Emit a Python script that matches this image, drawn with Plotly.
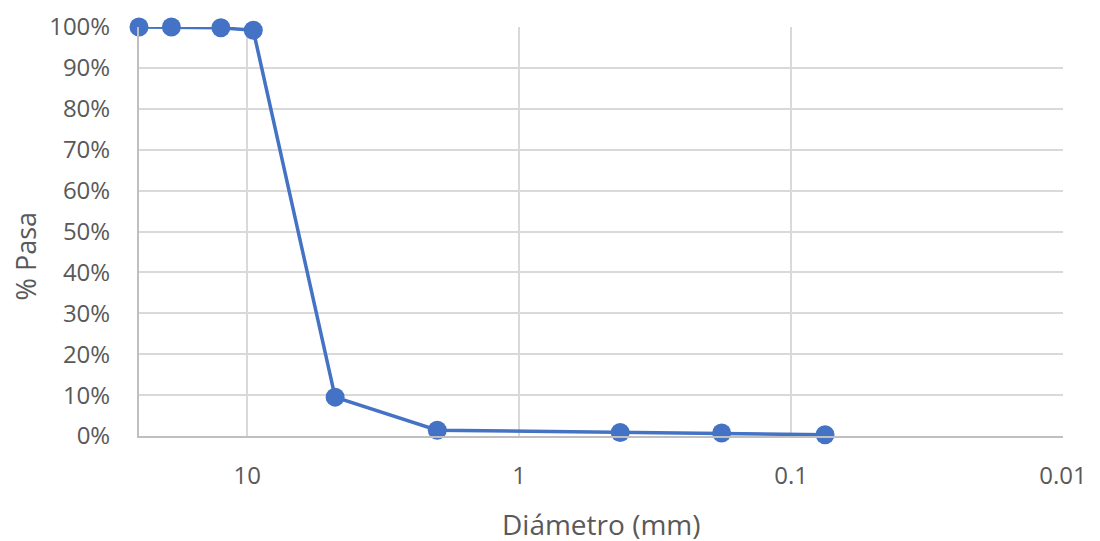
import math
import plotly.graph_objects as go

diametro_mm = [25.0, 19.0, 12.5, 9.5, 4.75, 2.0, 0.425, 0.18, 0.075]
pasa_pct = [100.0, 100.0, 99.8, 99.2, 9.5, 1.4, 0.85, 0.75, 0.3]

x_ticks = [10, 1, 0.1, 0.01]
x_tick_text = ["10", "1", "0.1", "0.01"]
y_ticks = [0, 10, 20, 30, 40, 50, 60, 70, 80, 90, 100]
y_tick_text = [f"{v}%" for v in y_ticks]

font_family = "Open Sans, Noto Sans, sans-serif"
gray_text = "#595959"

fig = go.Figure()
fig.add_trace(go.Scatter(
    x=diametro_mm, y=pasa_pct,
    mode="lines+markers",
    line=dict(color="#4472C4", width=3.5),
    marker=dict(color="#4472C4", size=19),
    cliponaxis=False,
    showlegend=False,
))

fig.update_layout(
    width=1100, height=541,
    margin=dict(l=131, r=45, t=19, b=113, autoexpand=False),
    paper_bgcolor="white", plot_bgcolor="white",
    font=dict(family=font_family, color=gray_text, size=24),
    xaxis=dict(
        type="log",
        range=[math.log10(25.0), -2],
        tickvals=x_ticks, ticktext=x_tick_text,
        showgrid=True, gridcolor="#d9d9d9", gridwidth=2,
        showline=True, linecolor="#bfbfbf", linewidth=2,
        zeroline=False, ticks="",
        tickfont=dict(size=24, color=gray_text),
        ticklabelstandoff=17,
        automargin=False,
    ),
    yaxis=dict(
        range=[0, 100],
        tickvals=y_ticks, ticktext=y_tick_text,
        showgrid=True, gridcolor="#d9d9d9", gridwidth=2,
        showline=True, linecolor="#bfbfbf", linewidth=2,
        zeroline=False, ticks="",
        tickfont=dict(size=24, color=gray_text),
        ticklabelstandoff=22,
        automargin=False,
    ),
    annotations=[
        dict(text="Diámetro (mm)", xref="paper", yref="paper", x=0.5, y=-0.215,
             xanchor="center", yanchor="middle", showarrow=False,
             font=dict(size=28, color=gray_text)),
        dict(text="% Pasa", xref="paper", yref="paper", x=-0.123, y=0.44,
             xanchor="center", yanchor="middle", textangle=-90, showarrow=False,
             font=dict(size=27, color=gray_text)),
    ],
)

fig.write_html("out.html")
